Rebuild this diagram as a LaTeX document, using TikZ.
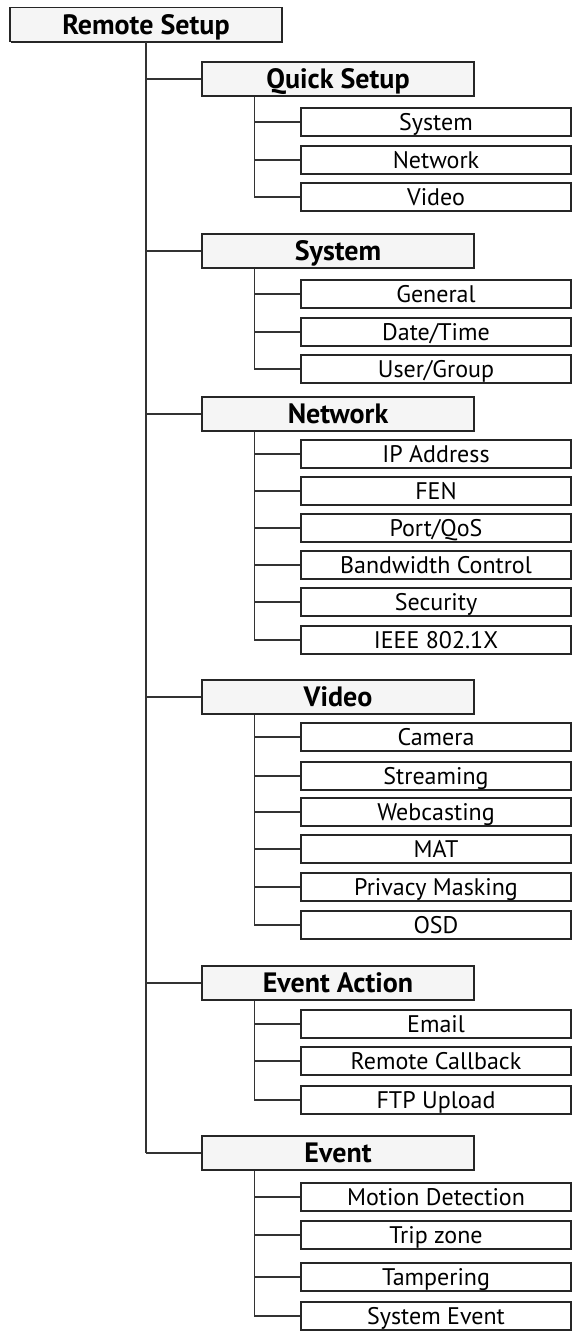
\documentclass[tikz,border=0pt]{standalone}
\usepackage{fontspec}
\setmainfont{PT Sans}
\usetikzlibrary{positioning, shadows}

\begin{document}
\begin{tikzpicture}[x=1pt, y=-1pt,
  every node/.style={font=\fontsize{24}{26}\selectfont},
  boxshadow/.style={drop shadow={shadow xshift=1.3pt, shadow yshift=-1.3pt,
                    opacity=1, fill=black!85}},
  rootbox/.style={draw=black!85, line width=1.2pt, fill=gray!8, inner sep=0pt,
                  minimum width=272pt, minimum height=34pt,
                  text height=19.6pt, text depth=0pt,
                  font=\fontsize{28}{30}\selectfont\bfseries, boxshadow},
  secbox/.style={rootbox},
  itembox/.style={draw=black!85, line width=1.2pt, fill=white, inner sep=0pt,
                  minimum width=270pt, minimum height=28pt,
                  text height=16.8pt, text depth=0pt, boxshadow},
  link/.style={draw=black!80, line width=1.1pt},
  boldlink/.style={link, line width=1.9pt}
]
\useasboundingbox (0,0) rectangle (576,1334);

% ---- Root and sections ----
\node[rootbox] (root) at (146,24.5) {Remote Setup};
\node[secbox] (qs)  at (338,79)   {Quick Setup};
\node[secbox] (sys) at (338,251)  {System};
\node[secbox] (net) at (338,414)  {Network};
\node[secbox] (vid) at (338,697)  {Video};
\node[secbox] (ea)  at (338,983)  {Event Action};
\node[secbox] (ev)  at (338,1153) {Event};

% ---- Menu items ----
\foreach \n/\t/\y in {qs1/System/122, qs2/Network/160, qs3/Video/197,
    sys1/General/294, sys2/{Date/Time}/332, sys3/{User/Group}/369,
    net1/IP Address/454, net2/FEN/491, net3/{Port/QoS}/528,
    net4/Bandwidth Control/565, net5/Security/602, net6/IEEE 802.1X/640,
    vid1/Camera/737, vid2/Streaming/776, vid3/Webcasting/812,
    vid4/MAT/849, vid5/Privacy Masking/887, vid6/OSD/925,
    ea1/Email/1024, ea2/Remote Callback/1061, ea3/FTP Upload/1100,
    ev1/Motion Detection/1197, ev2/Trip zone/1235,
    ev3/Tampering/1277, ev4/System Event/1316}
  \node[itembox] (\n) at (436,\y) {\t};

% ---- Trunk ----
\draw[link] (root.south) -- (root.south |- ev.west);
\foreach \s/\st in {qs/link, sys/link, net/boldlink, vid/boldlink,
                    ea/boldlink, ev/boldlink}
  \draw[\st] (root.south |- \s.west) -- (\s.west);

% ---- Branches ----
\foreach \s/\last in {qs/qs3, sys/sys3, net/net6, vid/vid6, ea/ea3, ev/ev4} {
  \coordinate (\s v) at ([xshift=53pt]\s.south west);
  \draw[link] (\s v) -- (\s v |- \last.west);
}
\foreach \s/\i/\st in {qs/qs1/link, qs/qs2/link, qs/qs3/link,
    sys/sys1/link, sys/sys2/boldlink, sys/sys3/link,
    net/net1/link, net/net2/link, net/net3/boldlink,
    net/net4/boldlink, net/net5/boldlink, net/net6/boldlink,
    vid/vid1/link, vid/vid2/link, vid/vid3/boldlink,
    vid/vid4/boldlink, vid/vid5/link, vid/vid6/boldlink,
    ea/ea1/boldlink, ea/ea2/link, ea/ea3/link,
    ev/ev1/boldlink, ev/ev2/link, ev/ev3/boldlink, ev/ev4/link}
  \draw[\st] (\s v |- \i.west) -- (\i.west);

\end{tikzpicture}
\end{document}
